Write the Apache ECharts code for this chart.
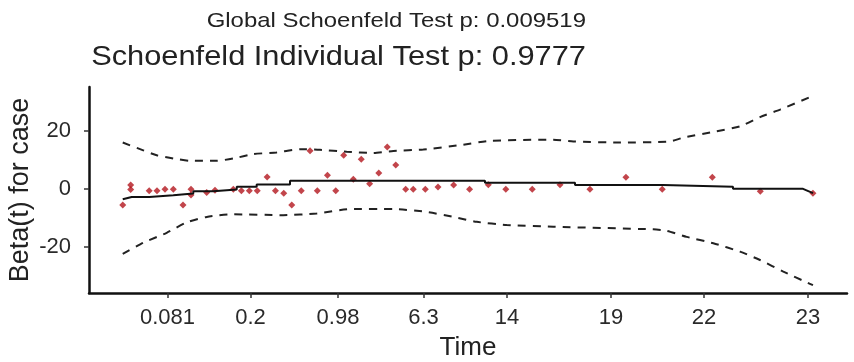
<!DOCTYPE html>
<html>
<head>
<meta charset="utf-8">
<script src="https://cdn.jsdelivr.net/npm/echarts@6/dist/echarts.min.js"></script>
<style>html,body{margin:0;padding:0;background:#fff}#c{width:854px;height:362px}</style>
</head>
<body>
<div id="c"></div>
<script>
// x positions are on the transformed time scale (0-100); tick labels show original time
const tickPos = [10.36, 21.3, 32.85, 44.13, 55.15, 68.87, 81.13, 94.85];
const tickLabels = ['0.081', '0.2', '0.98', '6.3', '14', '19', '22', '23'];
const yTicks = [-20, 0, 20];

// Schoenfeld residuals
const resX = [4.45, 5.5, 5.5, 7.94, 8.97, 10.03, 11.12, 12.4, 13.46, 13.46, 15.53, 16.62, 19.04, 20.1, 21.15, 22.2,
  23.5, 24.6, 25.69, 26.75, 28.0, 29.16, 30.12, 31.46, 32.55, 33.6, 34.87, 35.92, 37.02, 38.23, 39.35, 40.47,
  41.78, 42.78, 44.37, 46.04, 48.1, 50.21, 52.68, 54.99, 58.48, 62.14, 66.09, 70.84, 75.63, 82.23, 88.56, 95.51];
const resY = [-5.6, 1.3, -0.2, -0.7, -0.7, -0.1, -0.1, -5.6, -0.1, -2.1, -1.3, -0.5, -0.1, -0.7, -0.7, -0.7,
  4.1, -0.7, -1.5, -5.6, -0.7, 13.2, -0.7, 4.7, -0.7, 11.6, 3.3, 10.2, 1.8, 5.5, 14.5, 8.2,
  -0.1, -0.1, -0.1, 0.6, 1.3, -0.1, 1.4, -0.1, -0.1, 1.4, -0.1, 4.0, -0.1, 4.0, -0.8, -1.5];

// fitted beta(t)
const fitX = [4.45, 5.63, 7.96, 7.96, 11.12, 11.12, 13.76, 13.76, 16.4, 16.4, 19.49, 19.49, 22.12, 22.12, 26.52, 26.52,
  52.24, 52.24, 64.12, 64.12, 75.73, 75.73, 84.96, 84.96, 94.2, 95.51];
const fitY = [-3.6, -2.8, -2.8, -2.2, -2.2, -1.6, -1.6, -0.8, -0.8, -0.2, -0.2, 0.7, 0.7, 1.5, 1.5, 2.8,
  2.8, 2.1, 2.1, 1.3, 1.3, 0.7, 0.7, 0.0, 0.0, -1.5];

// upper confidence band
const upX = [4.45, 7.16, 8.93, 11.12, 13.32, 16.85, 19.04, 21.68, 24.76, 27.84, 30.47, 34.0, 37.5, 40.15, 44.1,
  48.94, 52.9, 61.25, 63.89, 70.05, 76.65, 78.4, 82.36, 85.88, 88.52, 91.16, 95.12, 95.51];
const upY = [16.0, 13.3, 11.6, 10.5, 9.7, 9.7, 10.5, 12.0, 12.6, 13.7, 13.5, 12.8, 12.4, 13.1, 13.6,
  15.1, 16.6, 17.0, 16.4, 16.0, 16.4, 17.7, 19.7, 21.6, 24.8, 27.4, 31.7, 32.2];

// lower confidence band
const loX = [4.45, 7.16, 10.25, 12.89, 15.53, 19.04, 25.63, 30.04, 34.43, 40.15, 44.33, 48.06, 51.15, 55.11,
  61.25, 74.44, 76.21, 78.85, 82.36, 85.88, 88.52, 91.6, 94.9, 95.51];
const loY = [-22.5, -18.6, -15.2, -11.6, -9.7, -8.8, -9.1, -8.5, -7.0, -7.0, -7.9, -9.7, -11.4, -12.5,
  -13.1, -14.0, -14.5, -16.6, -18.8, -21.7, -24.6, -28.6, -32.6, -33.3];

const globalTitle = 'Global Schoenfeld Test p: 0.009519';
const mainTitle = 'Schoenfeld Individual Test p: 0.9777';

const zip = (a, b) => a.map((v, i) => [v, b[i]]);
const FONT = 'Liberation Sans';

const chart = echarts.init(document.getElementById('c'), null, {renderer: 'canvas'});
chart.setOption({
  backgroundColor: '#ffffff',
  animation: false,
  graphic: [
    {type: 'text', x: 586, y: 21.5, scaleX: 1.14, silent: true,
     style: {text: globalTitle, font: '21px "Liberation Sans"', fill: '#222',
       textAlign: 'right', textVerticalAlign: 'middle', align: 'right', verticalAlign: 'middle'}},
    {type: 'text', x: 586, y: 57, scaleX: 1.1, silent: true,
     style: {text: mainTitle, font: '28px "Liberation Sans"', fill: '#222',
       textAlign: 'right', textVerticalAlign: 'middle', align: 'right', verticalAlign: 'middle'}}
  ],
  grid: {left: 89, right: 7, top: 87, bottom: 69, containLabel: false, outerBoundsMode: 'none'},
  xAxis: {
    type: 'value', min: 0, max: 100,
    name: 'Time', nameLocation: 'middle', nameGap: 42,
    nameTextStyle: {fontSize: 26, fontFamily: FONT, color: '#222'},
    axisLine: {show: true, onZero: false, lineStyle: {color: '#111', width: 2.5}},
    axisTick: {show: true, length: 5, customValues: tickPos, lineStyle: {color: '#333', width: 1.5}},
    axisLabel: {customValues: tickPos, fontSize: 22, fontFamily: FONT, color: '#2a2a2a', margin: 14,
      formatter: v => { const i = tickPos.findIndex(t => Math.abs(t - v) < 1e-6); return i >= 0 ? tickLabels[i] : ''; }},
    splitLine: {show: false}
  },
  yAxis: {
    type: 'value', min: -36, max: 35.2,
    name: 'Beta(t) for case', nameLocation: 'middle', nameGap: 55, nameMoveOverlap: false,
    nameTextStyle: {fontSize: 27, fontFamily: FONT, color: '#222'},
    axisLine: {show: true, onZero: false, lineStyle: {color: '#111', width: 2.5}},
    axisTick: {show: true, length: 5, customValues: yTicks, lineStyle: {color: '#333', width: 1.5}},
    axisLabel: {customValues: yTicks, fontSize: 22, fontFamily: FONT, color: '#2a2a2a', margin: 18},
    splitLine: {show: false}
  },
  series: [
    {type: 'line', data: zip(upX, upY), symbol: 'none', smooth: 0.2,
     lineStyle: {color: '#222', width: 2, type: [8, 7]}},
    {type: 'line', data: zip(loX, loY), symbol: 'none', smooth: 0.2,
     lineStyle: {color: '#222', width: 2, type: [8, 7]}},
    {type: 'line', data: zip(fitX, fitY), symbol: 'none',
     lineStyle: {color: '#111', width: 2}},
    {type: 'scatter', data: zip(resX, resY), symbol: 'diamond', symbolSize: 7,
     itemStyle: {color: '#B3161E'}}
  ]
});
</script>
</body>
</html>
